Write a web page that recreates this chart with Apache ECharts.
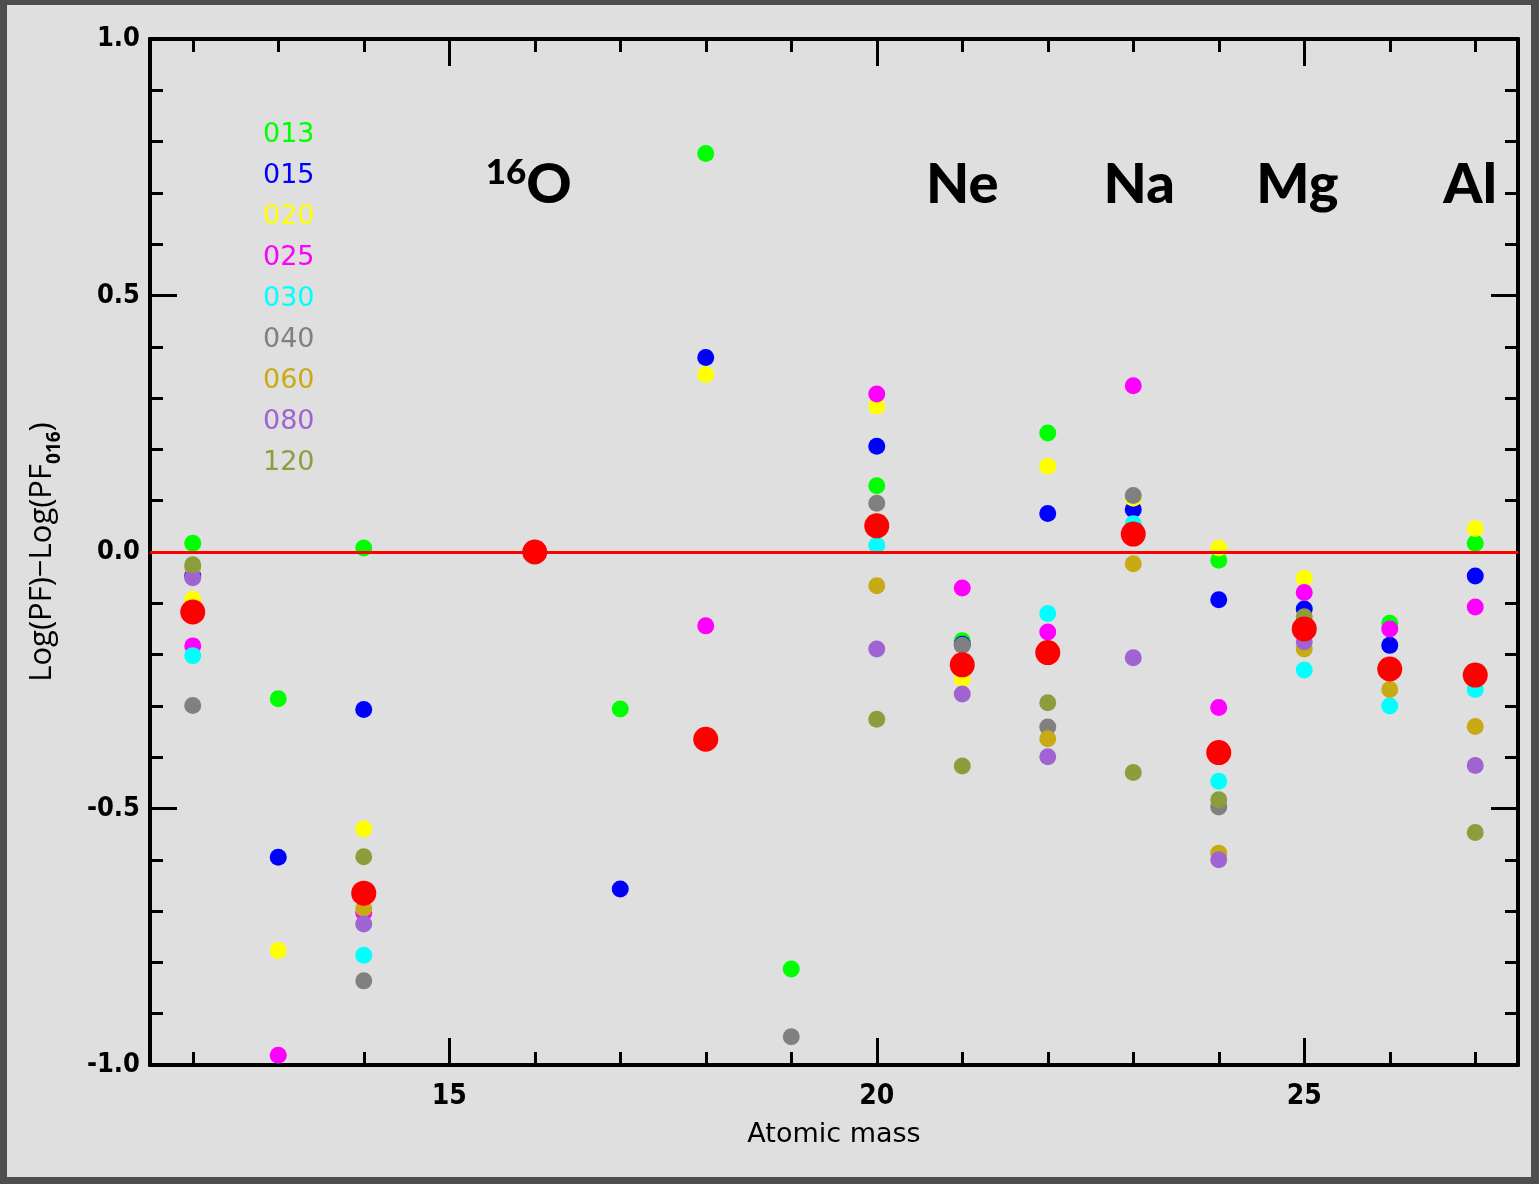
<!DOCTYPE html>
<html>
<head>
<meta charset="utf-8">
<title>Log(PF) - Log(PF016) vs atomic mass</title>
<script src="https://cdn.jsdelivr.net/npm/echarts@6.0.0/dist/echarts.min.js"></script>
<style>
  html, body { margin: 0; padding: 0; background: #4e4e4e; }
  #frame { position: absolute; left: 7px; top: 5px; width: 1524px; height: 1172px; background: #dfdfdf; }
  #chart { position: absolute; left: 0; top: 0; width: 1539px; height: 1184px; }
</style>
</head>
<body>
<div id="frame"></div>
<div id="chart"></div>
<script>
// Atomic masses of the isotopes (x positions)
const masses = [12, 13, 14, 16, 17, 18, 19, 20, 21, 22, 23, 24, 25, 26, 27];

// Log(PF) - Log(PF_O16) per model, aligned with masses (null = no point)
const s013 = [0.017, -0.286, 0.008, null, -0.306, 0.777, -0.813, 0.129, -0.173, 0.232, null, -0.016, null, -0.139, 0.017];
const s015 = [-0.047, -0.595, -0.307, null, -0.657, 0.379, null, 0.206, -0.180, 0.075, 0.083, -0.093, -0.111, -0.182, -0.047];
const s020 = [-0.092, -0.777, -0.540, null, null, 0.346, null, 0.284, -0.247, 0.167, 0.105, 0.008, -0.051, null, 0.046];
const s025 = [-0.183, -0.981, -0.703, null, null, -0.144, null, 0.308, -0.070, -0.156, 0.324, -0.303, -0.079, -0.150, -0.107];
const s030 = [-0.202, null, -0.786, null, null, null, null, 0.013, null, -0.120, 0.055, -0.447, -0.230, -0.300, -0.268];
const s040 = [-0.299, null, -0.836, null, null, null, -0.945, 0.095, -0.182, -0.341, 0.110, -0.497, null, null, null];
const s060 = [-0.030, null, -0.695, null, null, null, null, -0.066, null, -0.364, -0.023, -0.587, -0.189, -0.268, -0.340];
const s080 = [-0.050, null, -0.725, null, null, null, null, -0.189, -0.277, -0.399, -0.206, -0.600, -0.175, null, -0.416];
const s120 = [-0.025, null, -0.594, null, null, null, null, -0.326, -0.417, -0.294, -0.430, -0.483, -0.126, null, -0.547];

// Mean over models (large red dots)
const meanValues = [-0.117, null, -0.665, 0.0, null, -0.365, null, 0.051, -0.220, -0.196, 0.035, -0.391, -0.150, -0.228, -0.240];

const modelNames = ['013', '015', '020', '025', '030', '040', '060', '080', '120'];
const modelValues = [s013, s015, s020, s025, s030, s040, s060, s080, s120];
const modelColors = ['#00ff00', '#0000ff', '#ffff00', '#ff00ff', '#00ffff', '#808080', '#c8aa14', '#a064d2', '#8c9e3c'];

// Tick positions on the mass axis
const xMinorTicks = [12, 13, 14, 15, 16, 17, 18, 19, 20, 21, 22, 23, 24, 25, 26, 27];
const xMajorTicks = [15, 20, 25];

// Element annotations across the top
const elementIsotopes = ['16', '', '', '', ''];
const elementNames = ['O', 'Ne', 'Na', 'Mg', 'Al'];
const elementX = [15.93, 21.0, 23.07, 24.92, 26.94];
const elementY = [0.715, 0.715, 0.715, 0.715, 0.715];

function toPoints(values) {
  const pts = [];
  values.forEach((v, i) => { if (v !== null) pts.push([masses[i], v]); });
  return pts;
}

const tickFont = "'DejaVu Sans Condensed', 'DejaVu Sans', sans-serif";
const labelFont = "Lato, 'Open Sans', sans-serif";

function xAxisDef(position, ticks, tickLen, withLabels, withName) {
  return {
    type: 'value', position: position, min: 11.5, max: 27.5,
    axisLine: { show: true, onZero: false, lineStyle: { color: '#000', width: 4 } },
    axisTick: { show: true, inside: true, length: tickLen, customValues: ticks, lineStyle: { color: '#000', width: 3 } },
    axisLabel: withLabels ? {
      show: true, customValues: ticks, margin: 18, color: '#000',
      fontFamily: tickFont, fontWeight: 'bold', fontSize: 28
    } : { show: false },
    splitLine: { show: false },
    name: withName ? 'Atomic mass' : '',
    nameLocation: 'middle', nameGap: 56,
    nameTextStyle: { fontFamily: "'DejaVu Sans', sans-serif", fontSize: 27, color: '#000' }
  };
}

function yAxisDef(position, withLabels, withName) {
  return {
    type: 'value', position: position, min: -1, max: 1, interval: 0.5,
    axisLine: { show: true, onZero: false, lineStyle: { color: '#000', width: 4 } },
    axisTick: { show: true, inside: true, length: 27, lineStyle: { color: '#000', width: 3 } },
    minorTick: { show: true, splitNumber: 5, length: 13, lineStyle: { color: '#000', width: 3 } },
    axisLabel: withLabels ? {
      show: true, margin: 10, color: '#000', fontFamily: tickFont, fontWeight: 'bold', fontSize: 27,
      formatter: v => (v < 0 ? '-' : '') + Math.abs(v).toFixed(1)
    } : { show: false },
    splitLine: { show: false },
    minorSplitLine: { show: false },
    name: withName ? 'Log(PF)\u2212Log(PF{sub|016})' : '',
    nameLocation: 'middle', nameGap: 92,
    nameTextStyle: {
      fontFamily: "'Open Sans', sans-serif", fontSize: 31, color: '#000',
      rich: { sub: { fontFamily: "'Open Sans', sans-serif", fontSize: 19, fontWeight: 'bold', color: '#000', verticalAlign: 'bottom', padding: [0, 0, -6, 0] } }
    }
  };
}

const series = modelNames.map((name, k) => ({
  name: name,
  type: 'scatter',
  symbol: 'circle',
  symbolSize: 17,
  z: 2,
  itemStyle: { color: modelColors[k], opacity: 1 },
  data: toPoints(modelValues[k])
}));

// Zero reference line
series.push({
  name: 'zero',
  type: 'scatter',
  data: [],
  z: 3,
  silent: true,
  markLine: {
    silent: true,
    symbol: ['none', 'none'],
    label: { show: false },
    lineStyle: { color: '#ff0000', width: 3, type: 'solid' },
    data: [{ yAxis: 0 }]
  }
});

// Mean values
series.push({
  name: 'mean',
  type: 'scatter',
  symbolSize: 25,
  z: 4,
  itemStyle: { color: '#ff0000', opacity: 1 },
  data: toPoints(meanValues)
});

// Element labels
series.push({
  name: 'elements',
  type: 'scatter',
  symbolSize: 0,
  silent: true,
  z: 5,
  itemStyle: { color: '#000', opacity: 1 },
  data: elementNames.map((n, i) => ({ value: [elementX[i], elementY[i]], name: n })),
  label: {
    show: true,
    position: 'inside',
    color: '#000',
    opacity: 1,
    textBorderWidth: 0,
    formatter: p => (elementIsotopes[p.dataIndex] ? '{sup|' + elementIsotopes[p.dataIndex] + '}' : '') + '{big|' + p.name + '}',
    rich: {
      sup: { fontFamily: labelFont, fontWeight: 900, fontSize: 35, color: '#000', textBorderWidth: 0, verticalAlign: 'top', lineHeight: 40 },
      big: { fontFamily: labelFont, fontWeight: 900, fontSize: 56, color: '#000', textBorderWidth: 0, lineHeight: 60 }
    }
  },
  emphasis: { disabled: true }
});

const chart = echarts.init(document.getElementById('chart'), null, { renderer: 'canvas' });
chart.setOption({
  animation: false,
  backgroundColor: 'transparent',
  grid: { left: 150, right: 21, top: 39, bottom: 119, containLabel: false },
  xAxis: [
    xAxisDef('bottom', xMinorTicks, 13, false, true),
    xAxisDef('bottom', xMajorTicks, 27, true, false),
    xAxisDef('top', xMinorTicks, 13, false, false),
    xAxisDef('top', xMajorTicks, 27, false, false)
  ],
  yAxis: [
    yAxisDef('left', true, true),
    yAxisDef('right', false, false)
  ],
  legend: {
    show: true,
    orient: 'vertical',
    left: 253,
    top: 109,
    itemWidth: 0,
    itemHeight: 41,
    itemGap: 0,
    selectedMode: false,
    itemStyle: { color: 'transparent', borderWidth: 0 },
    textStyle: { fontFamily: "'DejaVu Sans', sans-serif", fontSize: 27, lineHeight: 41 },
    data: modelNames.map((n, k) => ({ name: n, icon: 'rect', textStyle: { color: modelColors[k] } }))
  },
  series: series
});
</script>
</body>
</html>
